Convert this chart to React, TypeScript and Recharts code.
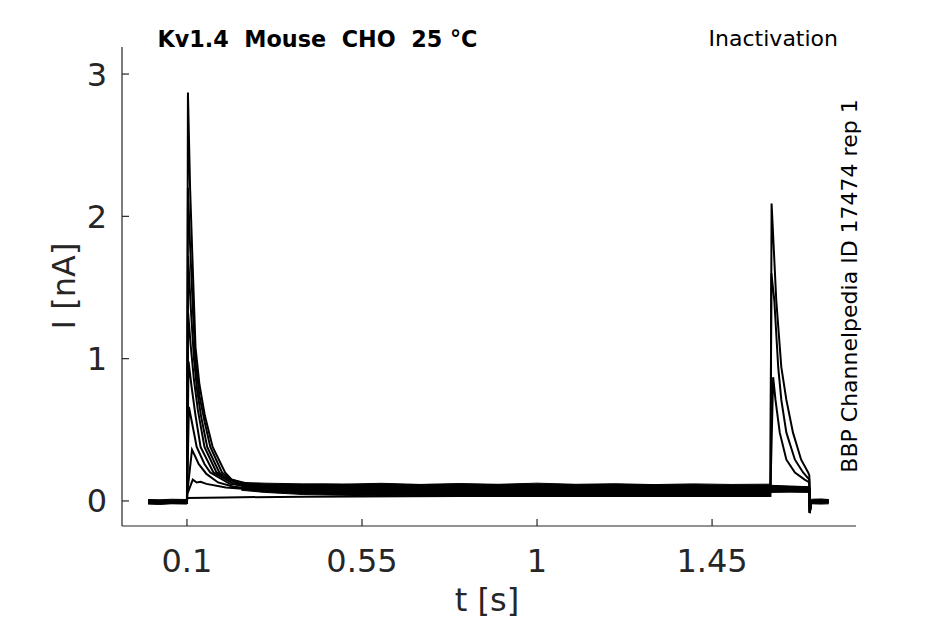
import { ComposedChart, Line, Area, XAxis, YAxis } from "recharts";

type Pt = { t: number; i: number };
type Band = { t: number; band: [number, number] };

const toPts = (rows: number[][]): Pt[] => rows.map(([t, i]) => ({ t, i }));
const toBand = (rows: number[][]): Band[] => rows.map(([t, lo, hi]) => ({ t, band: [lo, hi] }));

// tick labels
const X_TICKS = [0.1, 0.55, 1, 1.45];
const Y_TICKS = [0, 1, 2, 3];

// current traces [t (s), I (nA)]
const traceA = toPts([
  [0, -0.012], [0.05, -0.01], [0.1, -0.012], [0.1025, 2.87], [0.108, 2.2], [0.116, 1.55],
  [0.122, 1.08], [0.132, 0.82], [0.146, 0.6], [0.166, 0.38], [0.198, 0.2], [0.215, 0.15],
  [0.26, 0.12], [0.32, 0.11], [0.45, 0.115], [0.6, 0.11], [0.8, 0.113], [1.0, 0.108],
  [1.2, 0.11], [1.4, 0.106], [1.6, 0.1], [1.7, 0.095], [1.701, -0.085], [1.705, -0.01],
  [1.75, -0.005],
]);
const traceB = toPts([
  [0, -0.008], [0.1, -0.008], [0.1025, 2.2], [0.108, 1.8], [0.116, 1.3], [0.122, 0.98],
  [0.132, 0.74], [0.146, 0.55], [0.16, 0.38], [0.19, 0.2], [0.21, 0.155], [0.25, 0.12],
  [0.32, 0.105], [0.5, 0.1], [0.7, 0.104], [0.9, 0.099], [1.1, 0.102], [1.3, 0.1],
  [1.6, 0.098], [1.7, 0.09], [1.701, -0.08], [1.705, 0.0], [1.75, 0.002],
]);
const traceC = toPts([
  [0, -0.004], [0.1, -0.004], [0.103, 1.72], [0.11, 1.35], [0.118, 1.0], [0.126, 0.78],
  [0.136, 0.6], [0.152, 0.38], [0.183, 0.2], [0.2, 0.16], [0.24, 0.12], [0.3, 0.1],
  [0.5, 0.095], [0.8, 0.097], [1.1, 0.094], [1.4, 0.096], [1.6, 0.092], [1.7, 0.085],
  [1.701, -0.07], [1.705, -0.005], [1.75, 0.0],
]);
const traceD = toPts([
  [0, 0.0], [0.1, 0.0], [0.103, 1.32], [0.11, 1.08], [0.118, 0.85], [0.128, 0.64],
  [0.145, 0.38], [0.176, 0.2], [0.23, 0.12], [0.3, 0.095], [0.6, 0.09], [0.9, 0.092],
  [1.2, 0.088], [1.6, 0.088], [1.7, 0.08], [1.701, -0.06], [1.705, 0.0], [1.75, 0.004],
]);
const traceE = toPts([
  [0, -0.01], [0.1, -0.01], [0.104, 0.98], [0.112, 0.8], [0.122, 0.6], [0.135, 0.38],
  [0.168, 0.2], [0.22, 0.12], [0.3, 0.09], [0.6, 0.085], [1.0, 0.087], [1.3, 0.083],
  [1.6, 0.084], [1.7, 0.078], [1.701, -0.05], [1.705, -0.008], [1.75, -0.004],
]);
const traceF = toPts([
  [0, -0.006], [0.1, -0.006], [0.105, 0.66], [0.113, 0.55], [0.125, 0.38], [0.145, 0.26],
  [0.16, 0.2], [0.21, 0.12], [0.3, 0.085], [0.6, 0.08], [1.0, 0.078], [1.4, 0.08],
  [1.6, 0.078], [1.7, 0.074], [1.701, -0.04], [1.705, 0.0], [1.75, 0.0],
]);
const traceG = toPts([
  [0, -0.002], [0.1, -0.002], [0.1005, 0.05], [0.113, 0.36], [0.12, 0.32], [0.13, 0.26],
  [0.15, 0.19], [0.18, 0.13], [0.22, 0.1], [0.3, 0.08], [0.6, 0.07], [1.0, 0.072],
  [1.4, 0.068], [1.6, 0.07], [1.607, 0.87], [1.613, 0.71], [1.624, 0.48], [1.641, 0.29],
  [1.663, 0.2], [1.688, 0.15], [1.7, 0.13], [1.701, -0.085], [1.705, -0.01], [1.75, 0.0],
]);
const traceH = toPts([
  [0, -0.014], [0.1, -0.014], [0.101, 0.05], [0.115, 0.15], [0.125, 0.13], [0.135, 0.135],
  [0.15, 0.12], [0.2, 0.095], [0.3, 0.075], [0.6, 0.062], [1.0, 0.06], [1.4, 0.062],
  [1.6, 0.06], [1.6025, 1.6], [1.61, 1.41], [1.62, 0.94], [1.628, 0.71], [1.641, 0.48],
  [1.663, 0.29], [1.684, 0.2], [1.7, 0.15], [1.701, -0.08], [1.705, -0.01], [1.75, -0.006],
]);
const traceJ = toPts([
  [0, 0.002], [0.1, 0.002], [0.101, 0.02], [0.2, 0.025], [0.4, 0.03], [0.8, 0.035],
  [1.2, 0.035], [1.6, 0.035], [1.603, 2.09], [1.615, 1.41], [1.628, 0.94], [1.641, 0.71],
  [1.658, 0.48], [1.679, 0.29], [1.697, 0.2], [1.7, 0.18], [1.701, -0.085], [1.705, -0.01],
  [1.75, 0.0],
]);

const traces = [traceA, traceB, traceC, traceD, traceE, traceF, traceG, traceH, traceJ];

// noise envelope of the overlapping sweeps [t, low, high]
const bandPre = toBand([
  [0, -0.022, 0.01], [0.03, -0.025, 0.008], [0.06, -0.02, 0.012], [0.1, -0.022, 0.01],
]);
const bandPlateau = toBand([
  [0.24, 0.075, 0.13], [0.3, 0.06, 0.125], [0.4, 0.045, 0.12], [0.5, 0.04, 0.118],
  [0.6, 0.035, 0.124], [0.7, 0.038, 0.116], [0.8, 0.035, 0.122], [0.9, 0.037, 0.117],
  [1.0, 0.035, 0.125], [1.1, 0.036, 0.117], [1.2, 0.034, 0.121], [1.3, 0.037, 0.115],
  [1.4, 0.035, 0.12], [1.5, 0.036, 0.116], [1.6, 0.038, 0.118],
]);
const bandTest = toBand([
  [1.6, 0.06, 0.11], [1.65, 0.062, 0.105], [1.7, 0.06, 0.1],
]);
const bandPost = toBand([
  [1.705, -0.02, 0.012], [1.73, -0.022, 0.014], [1.75, -0.02, 0.01],
]);

const bands = [bandPre, bandPlateau, bandTest, bandPost];

const FONT = "DejaVu Sans";
const INK = "#262626";

function XTick(props: any) {
  const { x, y, payload } = props;
  return (
    <g>
      <line x1={x} x2={x} y1={y} y2={y - 7} stroke={INK} strokeWidth={1.2} />
      <text x={x} y={y + 46} textAnchor="middle" fontSize={32} fontFamily={FONT} fill={INK}>
        {String(payload.value)}
      </text>
    </g>
  );
}

function YTick(props: any) {
  const { x, y, payload } = props;
  return (
    <g>
      <line x1={x} x2={x + 7} y1={y} y2={y} stroke={INK} strokeWidth={1.2} />
      <text x={x - 15} y={y + 11.5} textAnchor="end" fontSize={32} fontFamily={FONT} fill={INK}>
        {String(payload.value)}
      </text>
    </g>
  );
}

export default function App() {
  return (
    <div style={{ position: "absolute", left: 0, top: 0, width: 945, height: 624, background: "#fff" }}>
      <ComposedChart width={945} height={624} margin={{ top: 47, right: 89, bottom: 0, left: 0 }}>
        <XAxis
          type="number"
          dataKey="t"
          domain={[-0.067, 1.82]}
          ticks={X_TICKS}
          height={98}
          tickSize={0}
          tickMargin={0}
          tickLine={false}
          axisLine={{ stroke: INK, strokeWidth: 1.2 }}
          tick={<XTick />}
          allowDuplicatedCategory={false}
        />
        <YAxis
          type="number"
          domain={[-0.176, 3.19]}
          ticks={Y_TICKS}
          width={122}
          tickSize={0}
          tickMargin={0}
          tickLine={false}
          axisLine={{ stroke: INK, strokeWidth: 1.2 }}
          tick={<YTick />}
        />
        {bands.map((d, k) => (
          <Area
            key={`b${k}`}
            data={d}
            dataKey="band"
            type="linear"
            stroke="#000"
            strokeWidth={1}
            fill="#000"
            fillOpacity={1}
            dot={false}
            activeDot={false}
            isAnimationActive={false}
          />
        ))}
        {traces.map((d, k) => (
          <Line
            key={k}
            data={d}
            dataKey="i"
            type="linear"
            dot={false}
            stroke="#000"
            strokeWidth={2}
            isAnimationActive={false}
          />
        ))}
      </ComposedChart>
      <svg
        width={945}
        height={624}
        style={{ position: "absolute", left: 0, top: 0, pointerEvents: "none" }}
      >
        <text
          x={317.5}
          y={47}
          textAnchor="middle"
          fontSize={22.3}
          fontWeight="bold"
          fontFamily={FONT}
          fill="#000"
          style={{ whiteSpace: "pre" }}
        >
          {"Kv1.4  Mouse  CHO  25 °C"}
        </text>
        <text x={838} y={46} textAnchor="end" fontSize={22} fontFamily={FONT} fill="#000">
          Inactivation
        </text>
        <text
          transform="translate(857, 286) rotate(-90)"
          textAnchor="middle"
          fontSize={22}
          fontFamily={FONT}
          fill="#000"
        >
          BBP Channelpedia ID 17474 rep 1
        </text>
        <text x={487} y={611} textAnchor="middle" fontSize={32} fontFamily={FONT} fill={INK}>
          t [s]
        </text>
        <text
          transform="translate(75, 286) rotate(-90)"
          textAnchor="middle"
          fontSize={32}
          fontFamily={FONT}
          fill={INK}
        >
          I [nA]
        </text>
      </svg>
    </div>
  );
}
